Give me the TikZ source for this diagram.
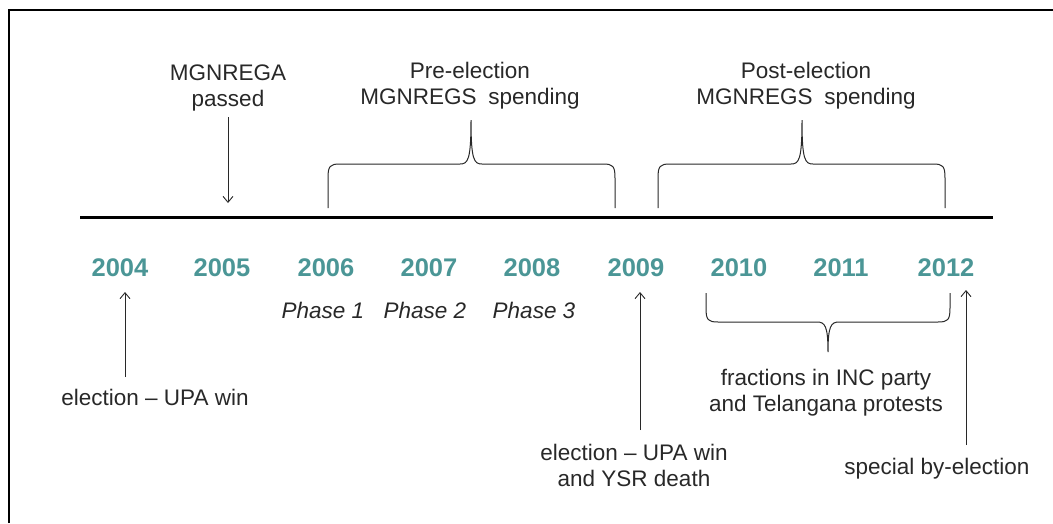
\documentclass[tikz,border=0pt]{standalone}
\usepackage{fontspec}
\setmainfont{Liberation Sans}
\usetikzlibrary{arrows.meta}
\definecolor{yearteal}{RGB}{75,150,150}
\definecolor{ink}{RGB}{40,40,40}
\begin{document}
\begin{tikzpicture}[x=1pt,y=-1pt,
  lbl/.style={font=\fontsize{22.5}{26}\selectfont, align=center, inner sep=0pt, anchor=base, text=ink},
  yr/.style={font=\fontsize{25.5}{30}\selectfont\bfseries, text=yearteal, inner sep=0pt, anchor=base},
  ph/.style={font=\fontsize{22.5}{26}\selectfont\itshape, inner sep=0pt, anchor=base, text=ink},
  evarrow/.style={draw=ink, line width=0.9pt, -{Straight Barb[length=6pt,width=10pt]}},
  bracket/.style={draw=ink, line width=1pt},
]
\useasboundingbox (0,0) rectangle (1053,523);
% frame (cropped)
\draw[line width=2pt] (9,523) -- (9,10) -- (1053,10);
% timeline
\coordinate (tlL) at (80,217);
\coordinate (tlR) at (993,217);
\draw[line width=3pt] (tlL) -- (tlR);

% years
\node[yr] (y04) at (120,276) {2004};
\node[yr] (y05) at (222,276) {2005};
\node[yr] (y06) at (326,276) {2006};
\node[yr] (y07) at (429,276) {2007};
\node[yr] (y08) at (532,276) {2008};
\node[yr] (y09) at (636,276) {2009};
\node[yr] (y10) at (739,276) {2010};
\node[yr] (y11) at (841,276) {2011};
\node[yr] (y12) at (946,276) {2012};

% phases
\node[ph] (p1) at (323,318) {Phase 1};
\node[ph] (p2) at (425,318) {Phase 2};
\node[ph] (p3) at (534,318) {Phase 3};

% top labels (base anchor = baseline of last line)
\node[lbl] (mgn) at (228,106) {MGNREGA\\passed};
\node[lbl] (pre) at (470,104) {Pre-election\\MGNREGS\hspace{0.25em} spending};
\node[lbl] (post) at (806,104) {Post-election\\MGNREGS\hspace{0.25em} spending};

% bottom labels
\node[lbl] (e04) at (155,405) {election -- UPA win};
\node[lbl] (e09) at (634,486) {election -- UPA win\\and YSR death};
\node[lbl] (frac) at (826,411) {fractions in INC party\\and Telangana protests};
\node[lbl] (spec) at (937,474) {special by-election};

% arrows
\coordinate (mgnS) at (228,117);
\coordinate (mgnE) at (228,203);
\draw[evarrow] (mgnS) -- (mgnE);
\coordinate (a04S) at (125,377);
\coordinate (a04E) at (125,292);
\draw[evarrow] (a04S) -- (a04E);
\coordinate (a09S) at (640,430);
\coordinate (a09E) at (640,292);
\draw[evarrow] (a09S) -- (a09E);
\coordinate (a12S) at (966,445);
\coordinate (a12E) at (966,290);
\draw[evarrow] (a12S) -- (a12E);

% brace: pre-election
\draw[bracket] (328,208) -- (328,178) .. controls (328,166) and (330,164) .. (340,164)
  -- (460,164) .. controls (468,164) and (471,160) .. (471,120)
  .. controls (471,160) and (474,164) .. (482,164)
  -- (603,164) .. controls (613,164) and (615,166) .. (615,178) -- (615,208);
% brace: post-election
\draw[bracket] (658,208) -- (658,178) .. controls (658,166) and (660,164) .. (670,164)
  -- (791,164) .. controls (799,164) and (802,160) .. (802,120)
  .. controls (802,160) and (805,164) .. (813,164)
  -- (933,164) .. controls (943,164) and (945,166) .. (945,178) -- (945,208);
% brace: fractions
\draw[bracket] (706,293) -- (706,308) .. controls (706,320) and (708,322) .. (718,322)
  -- (817,322) .. controls (825,322) and (828,326) .. (828,352)
  .. controls (828,326) and (831,322) .. (839,322)
  -- (938,322) .. controls (948,322) and (950,320) .. (950,308) -- (950,293);
\end{tikzpicture}
\end{document}
